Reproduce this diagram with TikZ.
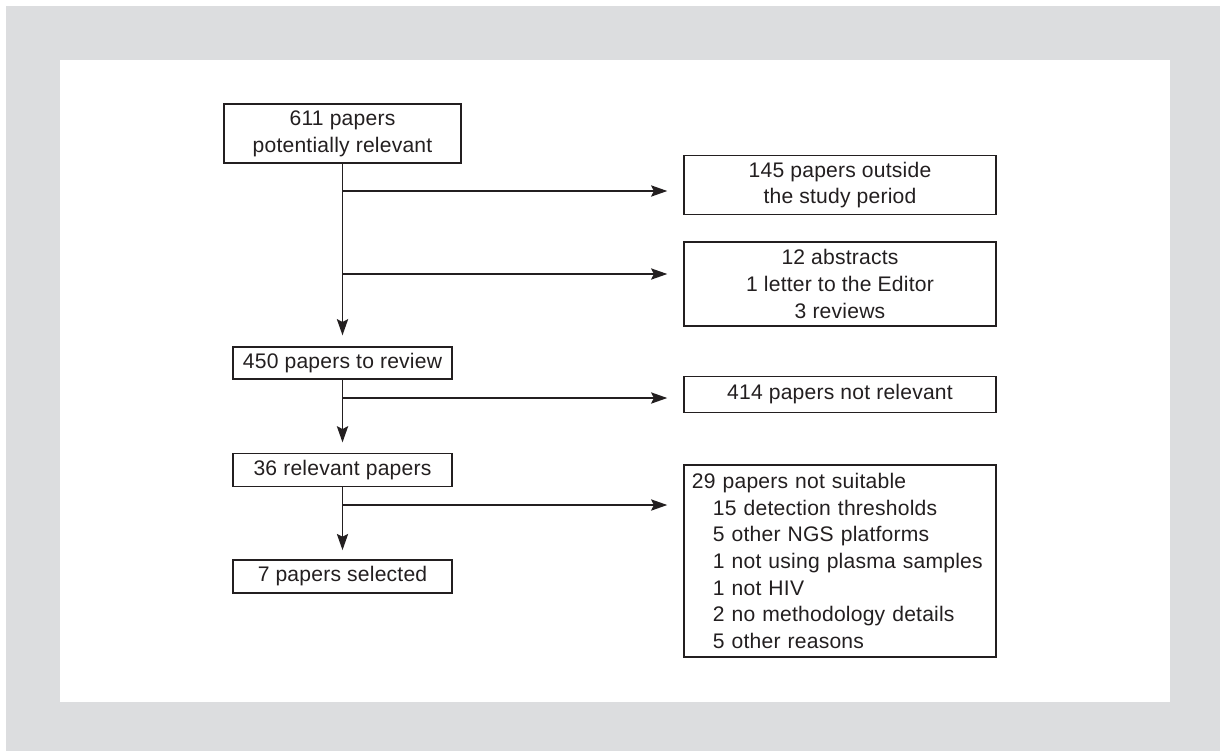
\documentclass[tikz,border=0pt]{standalone}
\usepackage{fontspec}
\setmainfont{Liberation Sans}[LetterSpace=1]
\usetikzlibrary{arrows.meta,positioning,calc}

\definecolor{ink}{HTML}{231F20}
\definecolor{frame}{HTML}{DCDDDF}

\tikzset{
	box/.style={draw=ink, line width=1pt, text=ink, align=center, inner sep=0pt,
		font=\fontsize{15}{19}\selectfont},
	flow/.style={draw=ink, line width=1.1pt, -{Stealth[length=11.5pt,width=8pt,inset=2pt]}},
}

\begin{document}
\begin{tikzpicture}[x=0.025cm, y=-0.025cm]
	\useasboundingbox (0,0) rectangle (1220,751);
	% Draw frame
	\fill[frame] (6,6) rectangle (1220,751);
	\fill[white] (60,60) rectangle (1170,702);
	
	% main column
	\node[box, minimum width=5.925cm, minimum height=1.475cm] (n611) at (342.5,133.5)
	{611 papers\\potentially relevant};
	\node[box, minimum width=5.475cm, minimum height=0.8cm] (n450) at (342.5,363)
	{450 papers to review};
	\node[box, minimum width=5.475cm, minimum height=0.825cm] (n36) at (342.5,470)
	{36 relevant papers};
	\node[box, minimum width=5.475cm, minimum height=0.825cm] (n7) at (342.5,576.5)
	{7 papers selected};
	
	% excluded
	\node[box, minimum width=7.8cm, minimum height=1.475cm] (n145) at (840,185)
	{145 papers outside\\the study period};
	\node[box, minimum width=7.8cm, minimum height=2.1cm] (n16) at (840,284)
	{12 abstracts\\1 letter to the Editor\\3 reviews};
	\node[box, minimum width=7.8cm, minimum height=0.9cm] (n414) at (840,394.5)
	{414 papers not relevant};
	\node[box, align=left, text width=7.4cm, inner xsep=0.2cm, minimum height=4.8cm] (n29) at (840,561)
	{29 papers not suitable\\
		\hspace*{0.525cm}15 detection thresholds\\
		\hspace*{0.525cm}5 other NGS platforms\\
		\hspace*{0.525cm}1 not using plasma samples\\
		\hspace*{0.525cm}1 not HIV\\
		\hspace*{0.525cm}2 no methodology details\\
		\hspace*{0.525cm}5 other reasons};
	
	\coordinate (b1) at (n611.south |- 0,191);
	\coordinate (b2) at (n611.south |- 0,274);
	\coordinate (b3) at (n450.south |- 0,398);
	\coordinate (b4) at (n36.south |- 0,505);
	
	% Draw arrows
	\draw[flow, shorten >=0.275cm] (n611.south) -- (n450.north);
	\draw[flow, shorten >=0.26cm] (n450.south) -- (n36.north);
	\draw[flow, shorten >=0.23cm] (n36.south) -- (n7.north);
	
	\draw[flow, shorten >=0.4cm] (b1) -- (b1 -| n145.west);
	\draw[flow, shorten >=0.4cm] (b2) -- (b2 -| n16.west);
	\draw[flow, shorten >=0.4cm] (b3) -- (b3 -| n414.west);
	\draw[flow, shorten >=0.4cm] (b4) -- (b4 -| n29.west);
\end{tikzpicture}
\end{document}
